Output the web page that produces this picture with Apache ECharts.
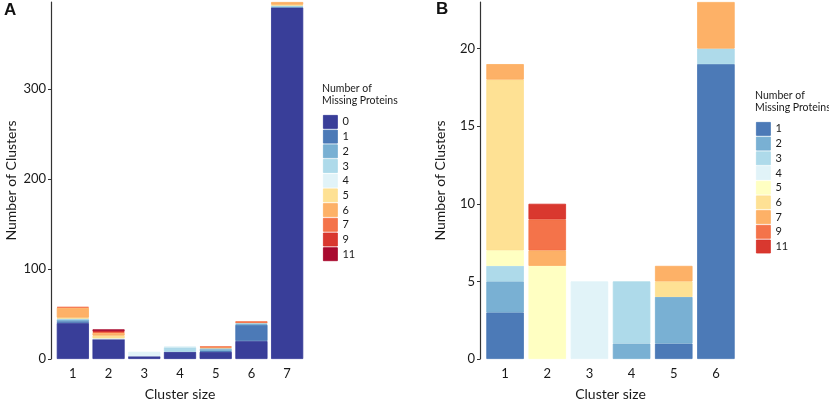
<!DOCTYPE html>
<html>
<head>
<meta charset="utf-8">
<script src="https://cdn.jsdelivr.net/npm/echarts@6/dist/echarts.min.js"></script>
<style>
  html, body { margin: 0; padding: 0; background: #fff; }
  #chart { width: 829px; height: 399px; }
</style>
</head>
<body>
<div id="chart"></div>
<script>
// panel A: cluster sizes 1..7, stacked by number of missing proteins
let sizesA = ['1', '2', '3', '4', '5', '6', '7'];
let missingA = ['0', '1', '2', '3', '4', '5', '6', '7', '9', '11'];
let colorsA = ['#313695', '#4575b4', '#74add1', '#abd9e9', '#e0f3f8', '#fee090', '#fdae61', '#f46d43', '#d73027', '#a50026'];
let a0 = [40, 22, 3, 8, 8, 20, 391];
let a1 = [2, 0, 0, 0, 1, 18, 0];
let a2 = [2, 0, 0, 0, 2, 1, 1];
let a3 = [1, 0, 0, 5, 1, 1, 1];
let a4 = [0, 1, 5, 1, 0, 0, 0];
let a5 = [1, 3, 0, 0, 0, 0, 1];
let a6 = [11, 3, 0, 0, 1, 0, 3];
let a7 = [1, 1, 0, 0, 1, 2, 0];
let a9 = [0, 1, 0, 0, 0, 0, 0];
let a11 = [0, 2, 0, 0, 0, 0, 0];
let ticksA = [0, 100, 200, 300];

// panel B: cluster sizes 1..6
let sizesB = ['1', '2', '3', '4', '5', '6'];
let missingB = ['1', '2', '3', '4', '5', '6', '7', '9', '11'];
let colorsB = ['#4575b4', '#74add1', '#abd9e9', '#e0f3f8', '#ffffbf', '#fee090', '#fdae61', '#f46d43', '#d73027'];
let b1 = [3, 0, 0, 0, 1, 19];
let b2 = [2, 0, 0, 1, 3, 0];
let b3 = [1, 0, 0, 4, 0, 1];
let b4 = [0, 0, 5, 0, 0, 0];
let b5 = [1, 6, 0, 0, 0, 0];
let b6 = [11, 0, 0, 0, 1, 0];
let b7 = [1, 1, 0, 0, 1, 3];
let b9 = [0, 2, 0, 0, 0, 0];
let b11 = [0, 1, 0, 0, 0, 0];
let ticksB = [0, 5, 10, 15, 20];

let valuesA = [a0, a1, a2, a3, a4, a5, a6, a7, a9, a11];
let valuesB = [b1, b2, b3, b4, b5, b6, b7, b9, b11];

const FONT = 'Lato';
const INK = '#1a1a1a';

function hexAlpha(hex, a) {
	let r = parseInt(hex.slice(1, 3), 16), g = parseInt(hex.slice(3, 5), 16), b = parseInt(hex.slice(5, 7), 16);
	return 'rgba(' + r + ',' + g + ',' + b + ',' + a + ')';
}

function makeSeries(prefix, names, values, colors, axisIdx, width) {
	return names.map(function (n, i) {
		return {
			name: prefix + n,
			type: 'bar',
			stack: prefix,
			xAxisIndex: axisIdx,
			yAxisIndex: axisIdx,
			barWidth: width,
			data: values[i].map(v => v === 0 ? '-' : v), // no empty slivers
			itemStyle: {
				color: hexAlpha(colors[i], 0.96),
				borderColor: colors[i],
				borderWidth: 0.8
			},
			emphasis: { disabled: true }
		};
	});
}

function yAxisFor(idx, max, ticks) {
	return {
		type: 'value',
		gridIndex: idx,
		min: 0,
		max: max,
		offset: 4,
		name: 'Number of Clusters',
		nameLocation: 'middle',
		nameGap: 33,
		nameTextStyle: { fontFamily: FONT, fontSize: 14, color: INK },
		splitLine: { show: false },
		axisLine: { show: true, lineStyle: { color: '#333', width: 1.2 } },
		axisTick: { show: true, length: 3, customValues: ticks, lineStyle: { color: '#333' } },
		axisLabel: { customValues: ticks, fontFamily: FONT, fontSize: 13, color: INK, margin: 5 }
	};
}

function xAxisFor(idx, cats) {
	return {
		type: 'category',
		gridIndex: idx,
		data: cats,
		name: 'Cluster size',
		nameLocation: 'middle',
		nameGap: 28,
		nameTextStyle: { fontFamily: FONT, fontSize: 14, color: INK },
		axisLine: { show: false },
		axisTick: { show: false },
		axisLabel: { fontFamily: FONT, fontSize: 13, color: INK, margin: 8 }
	};
}

function legendFor(prefix, names, colors, left, top) {
	return {
		orient: 'vertical',
		left: left,
		top: top,
		padding: 0,
		itemWidth: 14,
		itemHeight: 13,
		itemGap: 0.9,
		selectedMode: false,
		icon: 'rect',
		data: names.map((n, i) => ({ name: prefix + n, itemStyle: { color: hexAlpha(colors[i], 0.96), borderColor: colors[i], borderWidth: 0.8 } })),
		formatter: name => name.slice(prefix.length),
		textStyle: { fontFamily: FONT, fontSize: 11, lineHeight: 13, color: INK }
	};
}

let mychart = echarts.init(document.getElementById('chart'), null, { renderer: 'canvas' });
let option = {
	animation: false,
	backgroundColor: '#fff',
	title: [
		{ text: 'A', left: 4, top: 2, padding: 0, textStyle: { fontFamily: 'Liberation Sans', fontSize: 17, fontWeight: 'bold', color: '#111' } },
		{ text: 'B', left: 436, top: 1, padding: 0, textStyle: { fontFamily: 'Liberation Sans', fontSize: 17, fontWeight: 'bold', color: '#111' } },
		{ text: 'Number of\nMissing Proteins', left: 322, top: 82, padding: 0, textStyle: { fontFamily: FONT, fontSize: 10.5, lineHeight: 12.5, fontWeight: 'normal', color: INK } },
		{ text: 'Number of\nMissing Proteins', left: 755, top: 89, padding: 0, textStyle: { fontFamily: FONT, fontSize: 10.5, lineHeight: 12.5, fontWeight: 'normal', color: INK } }
	],
	grid: [
		{ left: 55, top: 2, width: 250, height: 357, outerBoundsMode: 'none' },
		{ left: 484, top: 2, width: 253, height: 357, outerBoundsMode: 'none' }
	],
	xAxis: [xAxisFor(0, sizesA), xAxisFor(1, sizesB)],
	yAxis: [yAxisFor(0, 397, ticksA), yAxisFor(1, 23, ticksB)],
	legend: [
		legendFor('A:', missingA, colorsA, 323, 115),
		legendFor('B:', missingB, colorsB, 756, 122)
	],
	series: makeSeries('A:', missingA, valuesA, colorsA, 0, '90%')
		.concat(makeSeries('B:', missingB, valuesB, colorsB, 1, '89%'))
};

mychart.setOption(option);
</script>
</body>
</html>
